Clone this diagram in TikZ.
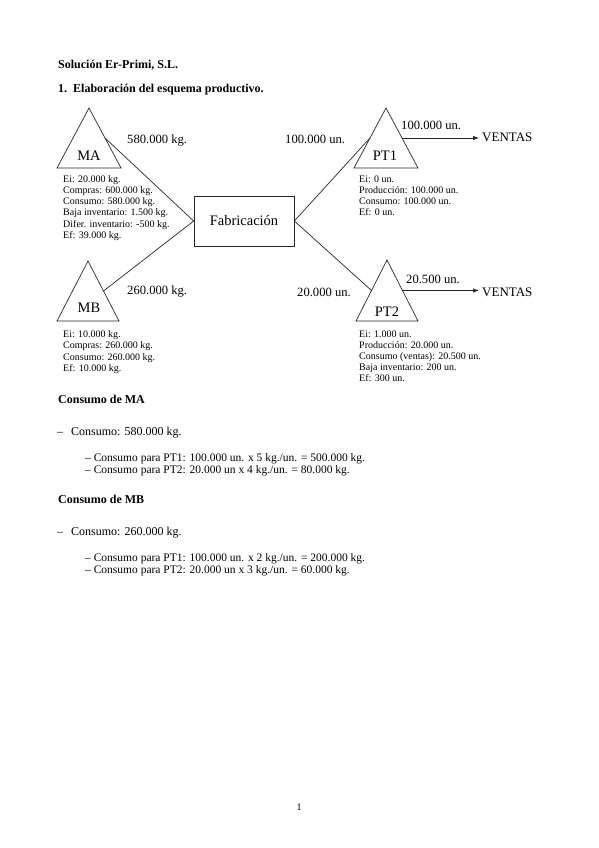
\documentclass[tikz,border=0pt]{standalone}
\usepackage{fontspec}
\setmainfont{Liberation Serif}
\usetikzlibrary{arrows.meta,calc}
\begin{document}
\begin{tikzpicture}[x=1pt,y=-1pt,
  txt/.style={inner sep=0pt, anchor=base west, font=\fontsize{12}{14}\selectfont},
  flow/.style={inner sep=0pt, anchor=base west, font=\fontsize{12.6}{14}\selectfont},
  ctr/.style={inner sep=0pt, anchor=base, font=\fontsize{14.5}{16}\selectfont},
  hd/.style={inner sep=0pt, anchor=base west, font=\fontsize{12}{14}\selectfont\bfseries},
  info/.style={inner sep=0pt, anchor=base west, font=\fontsize{10}{12}\selectfont},
  subitem/.style={inner sep=0pt, anchor=base west, font=\fontsize{11.5}{13}\selectfont},
  ln/.style={line width=0.7pt, draw=black!85},
  tri/.style={ln, line join=miter},
  arr/.style={ln, -{Latex[length=6pt,width=4.5pt]}, shorten >=3pt},
]
\fill[white] (0,0) rectangle (599,848);
\path[use as bounding box] (0,0) rectangle (599,848);

% headings
\node[hd] (title) at (58,69) {Solución Er-Primi, S.L.};
\node[hd] (num1) at (58,92.5) {1.};
\node[hd] (sec1) at (73,92.5) {Elaboración del esquema productivo.};

% triangles
\coordinate (MAa) at (89,108); \coordinate (MAl) at (57,168); \coordinate (MAr) at (121,168);
\draw[tri] (MAa) -- (MAl) -- (MAr) -- cycle;
\node[ctr] (MA) at (89,160.5) {MA};
\coordinate (MAe) at ($(MAa)!0.5!(MAr)$);

\coordinate (MBa) at (88,261); \coordinate (MBl) at (57,321); \coordinate (MBr) at (119,321);
\draw[tri] (MBa) -- (MBl) -- (MBr) -- cycle;
\node[ctr] (MB) at (89,312.5) {MB};
\coordinate (MBe) at ($(MBa)!0.5!(MBr)$);

\coordinate (P1a) at (386,108); \coordinate (P1l) at (354,168); \coordinate (P1r) at (418,168);
\draw[tri] (P1a) -- (P1l) -- (P1r) -- cycle;
\node[ctr] (PT1) at (385,160.5) {PT1};
\coordinate (P1w) at ($(P1a)!0.5!(P1l)$);
\coordinate (P1e) at ($(P1a)!0.5!(P1r)$);

\coordinate (P2a) at (387,260); \coordinate (P2l) at (356,321); \coordinate (P2r) at (418,321);
\draw[tri] (P2a) -- (P2l) -- (P2r) -- cycle;
\node[ctr] (PT2) at (387,316.5) {PT2};
\coordinate (P2w) at ($(P2a)!0.5!(P2l)$);
\coordinate (P2e) at ($(P2a)!0.5!(P2r)$);

% box
\node[ln, draw, minimum width=100pt, minimum height=50pt, inner sep=0pt,
      font=\fontsize{14.5}{16}\selectfont] (fab) at (244,221) {Fabricación};

% connectors
\draw[ln] (MAe) -- (fab.west);
\draw[ln] (MBe) -- (fab.west);
\draw[ln] (fab.east) -- (P1w);
\draw[ln] (fab.east) -- (P2w);

\node[inner sep=0pt, anchor=base west, font=\fontsize{13}{15}\selectfont] (v1) at (482,142) {VENTAS};
\node[inner sep=0pt, anchor=base west, font=\fontsize{13}{15}\selectfont] (v2) at (482,296) {VENTAS};
\draw[arr] (P1e) -- (P1e -| v1.west);
\draw[arr] (P2e) -- (P2e -| v2.west);

% flow labels
\node[flow] (lma) at (127,143) {580.000 kg.};
\node[flow] (lmb) at (127,294) {260.000 kg.};
\node[flow] (lp1) at (285,143) {100.000 un.};
\node[flow] (lv1) at (401,129) {100.000 un.};
\node[flow] (lp2) at (297,296) {20.000 un.};
\node[flow] (lv2) at (406,283) {20.500 un.};

% info blocks
\foreach \t [count=\i] in {Ei: 20.000 kg.,Compras: 600.000 kg.,Consumo: 580.000 kg.,Baja inventario: 1.500 kg.,Difer. inventario: -500 kg.,Ef: 39.000 kg.}
  \node[info] (ma\i) at (63,{182+11.3*(\i-1)}) {\t};
\foreach \t [count=\i] in {Ei: 10.000 kg.,Compras: 260.000 kg.,Consumo: 260.000 kg.,Ef: 10.000 kg.}
  \node[info] (mb\i) at (63,{337+11.5*(\i-1)}) {\t};
\foreach \t [count=\i] in {Ei: 0 un.,Producción: 100.000 un.,Consumo: 100.000 un.,Ef: 0 un.}
  \node[info] (pa\i) at (359,{182+11.2*(\i-1)}) {\t};
\foreach \t [count=\i] in {Ei: 1.000 un.,Producción: 20.000 un.,Consumo (ventas): 20.500 un.,Baja inventario: 200 un.,Ef: 300 un.}
  \node[info] (pb\i) at (359,{337.5+11*(\i-1)}) {\t};

% lower text
\node[hd] (cma) at (58,403) {Consumo de MA};
\node[txt] (da) at (57,435) {–};
\node[txt] (ca) at (71,435) {Consumo: 580.000 kg.};
\node[subitem] (sa1) at (85,461.5) {– Consumo para PT1: 100.000 un. x 5 kg./un. = 500.000 kg.};
\node[subitem] (sa2) at (85,473) {– Consumo para PT2: 20.000 un x 4 kg./un. = 80.000 kg.};

\node[hd] (cmb) at (58,503.5) {Consumo de MB};
\node[txt] (db) at (57,535.5) {–};
\node[txt] (cb) at (71,535.5) {Consumo: 260.000 kg.};
\node[subitem] (sb1) at (85,561.5) {– Consumo para PT1: 100.000 un. x 2 kg./un. = 200.000 kg.};
\node[subitem] (sb2) at (85,573) {– Consumo para PT2: 20.000 un x 3 kg./un. = 60.000 kg.};

\node[inner sep=0pt, anchor=base, font=\fontsize{10}{12}\selectfont] (pg) at (299,810) {1};
\end{tikzpicture}
\end{document}
